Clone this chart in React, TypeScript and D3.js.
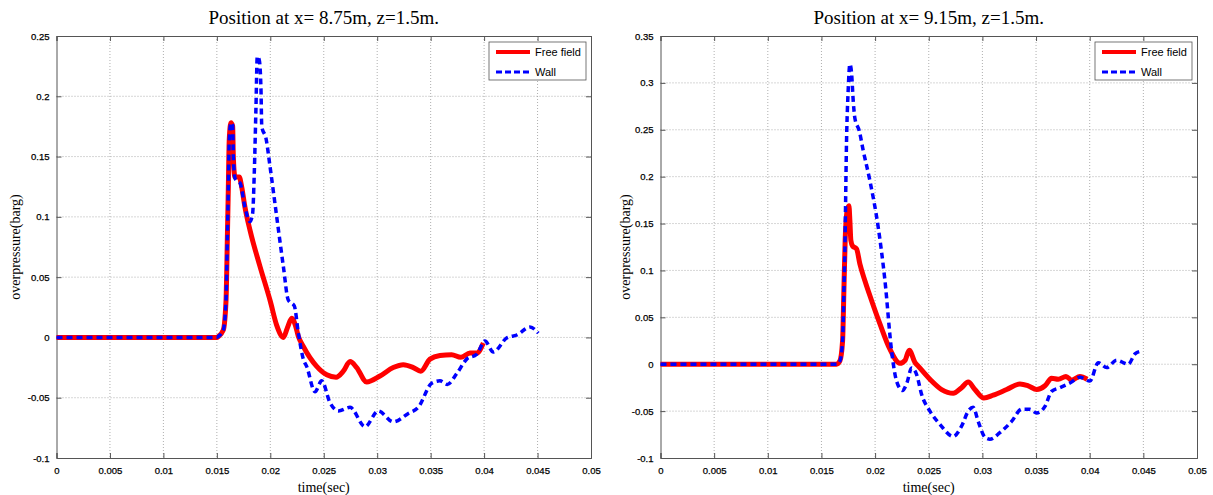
import React, { useEffect, useRef } from "react";
import * as d3 from "d3";

// left panel: x = 8.75 m
const leftFreeT = [0, 0.015, 0.01514, 0.0156, 0.01586, 0.01598, 0.01607, 0.01616, 0.01632, 0.01648, 0.01654, 0.0167, 0.0171, 0.01732, 0.01763, 0.0181, 0.019, 0.02, 0.0206, 0.02122, 0.0216, 0.022, 0.02235, 0.02262, 0.02309, 0.02434, 0.02528, 0.02615, 0.02683, 0.02746, 0.02808, 0.02902, 0.03026, 0.0315, 0.03244, 0.03338, 0.03407, 0.03494, 0.03587, 0.03697, 0.03781, 0.03868, 0.03931, 0.03993];
const leftFreeV = [0, 0, 0.0008, 0.006, 0.031, 0.081, 0.122, 0.164, 0.178, 0.175, 0.15, 0.133, 0.133, 0.125, 0.108, 0.089, 0.06, 0.03, 0.01, 0, 0.008, 0.016, 0.01, 0.001, -0.0075, -0.024, -0.031, -0.033, -0.028, -0.02, -0.025, -0.037, -0.032, -0.025, -0.0226, -0.025, -0.028, -0.018, -0.015, -0.0143, -0.0165, -0.013, -0.013, -0.0046];

const leftWallT = [0, 0.015, 0.01514, 0.0156, 0.01586, 0.01598, 0.01607, 0.01616, 0.01632, 0.01648, 0.01654, 0.0167, 0.01686, 0.01717, 0.01763, 0.0181, 0.01835, 0.0185, 0.01866, 0.01878, 0.01897, 0.01913, 0.0192, 0.0196, 0.01997, 0.0206, 0.02122, 0.02168, 0.02225, 0.02262, 0.02309, 0.0234, 0.02418, 0.02481, 0.02558, 0.02636, 0.02746, 0.02886, 0.0301, 0.0315, 0.03291, 0.03384, 0.0351, 0.03587, 0.03656, 0.03744, 0.03837, 0.03931, 0.04008, 0.04086, 0.04211, 0.04305, 0.04429, 0.04507];
const leftWallV = [0, 0, 0.0008, 0.006, 0.031, 0.081, 0.122, 0.164, 0.178, 0.176, 0.15, 0.132, 0.13, 0.128, 0.108, 0.096, 0.103, 0.136, 0.191, 0.233, 0.23, 0.205, 0.175, 0.165, 0.142, 0.1, 0.059, 0.031, 0.026, 0.004, -0.018, -0.024, -0.045, -0.036, -0.054, -0.061, -0.058, -0.074, -0.061, -0.07, -0.063, -0.058, -0.038, -0.036, -0.039, -0.03, -0.018, -0.014, -0.003, -0.012, -0.0005, 0.002, 0.0086, 0.0036];

// right panel: x = 9.15 m
const rightFreeT = [0, 0.01641, 0.01672, 0.01697, 0.01709, 0.01721, 0.0174, 0.01756, 0.01765, 0.01774, 0.0179, 0.01827, 0.01858, 0.01905, 0.01967, 0.02045, 0.02138, 0.02231, 0.02278, 0.02318, 0.02371, 0.02402, 0.02511, 0.0262, 0.02728, 0.02806, 0.02868, 0.0293, 0.03014, 0.03101, 0.03226, 0.0335, 0.03427, 0.03506, 0.03583, 0.03645, 0.03707, 0.03779, 0.03832, 0.03909, 0.03977];
const rightFreeV = [0, 0, 0.0035, 0.025, 0.078, 0.132, 0.164, 0.169, 0.153, 0.132, 0.126, 0.123, 0.107, 0.089, 0.068, 0.043, 0.016, 0.001, 0.004, 0.015, 0.002, -0.002, -0.016, -0.027, -0.031, -0.025, -0.019, -0.027, -0.036, -0.033, -0.027, -0.021, -0.023, -0.027, -0.023, -0.015, -0.016, -0.013, -0.017, -0.013, -0.016];

const rightWallT = [0, 0.01641, 0.01672, 0.01697, 0.01709, 0.01718, 0.01734, 0.01749, 0.01765, 0.01781, 0.01796, 0.01812, 0.01852, 0.01889, 0.01951, 0.02029, 0.02091, 0.02154, 0.022, 0.02256, 0.02299, 0.0234, 0.02387, 0.02433, 0.02511, 0.02604, 0.02728, 0.02806, 0.02868, 0.02914, 0.02961, 0.03024, 0.0307, 0.03163, 0.03272, 0.03366, 0.03443, 0.03506, 0.03583, 0.03645, 0.03723, 0.03816, 0.03909, 0.04002, 0.0408, 0.04158, 0.04251, 0.0436, 0.04422, 0.04484];
const rightWallV = [0, 0, 0.0035, 0.025, 0.078, 0.12, 0.239, 0.292, 0.32, 0.31, 0.281, 0.262, 0.249, 0.228, 0.196, 0.146, 0.09, 0.014, -0.018, -0.028, -0.019, -0.004, -0.011, -0.032, -0.05, -0.064, -0.077, -0.066, -0.05, -0.046, -0.061, -0.078, -0.08, -0.073, -0.061, -0.048, -0.048, -0.052, -0.045, -0.029, -0.025, -0.02, -0.014, -0.018, 0.0017, -0.0036, 0.0043, 0, 0.011, 0.014];

const xTicks = [0, 0.005, 0.01, 0.015, 0.02, 0.025, 0.03, 0.035, 0.04, 0.045, 0.05];
const leftYTicks = [-0.1, -0.05, 0, 0.05, 0.1, 0.15, 0.2, 0.25];
const rightYTicks = [-0.1, -0.05, 0, 0.05, 0.1, 0.15, 0.2, 0.25, 0.3, 0.35];
const seriesNames = ["Free field", "Wall"];

const panels = [
  { title: "Position at x= 8.75m, z=1.5m.", left: 56.5, right: 591, yMax: 0.25, yTicks: leftYTicks, free: [leftFreeT, leftFreeV], wall: [leftWallT, leftWallV], yLabelX: 15 },
  { title: "Position at x= 9.15m, z=1.5m.", left: 660.5, right: 1197, yMax: 0.35, yTicks: rightYTicks, free: [rightFreeT, rightFreeV], wall: [rightWallT, rightWallV], yLabelX: 625 },
];

export default function App() {
  const svgRef = useRef(null);

  useEffect(() => {
    const svg = d3.select(svgRef.current);
    svg.selectAll("*").remove();
    const top = 36;
    const bottom = 458;
    const fmt = (d) => (d === 0 ? "0" : String(+d.toFixed(3)));

    panels.forEach((p) => {
      const x = d3.scaleLinear().domain([0, 0.05]).range([p.left, p.right]);
      const y = d3.scaleLinear().domain([-0.1, p.yMax]).range([bottom, top]);
      const g = svg.append("g");

      // grid
      g.append("g")
        .selectAll("line")
        .data(xTicks.slice(1, -1))
        .join("line")
        .attr("x1", (d) => x(d))
        .attr("x2", (d) => x(d))
        .attr("y1", top)
        .attr("y2", bottom)
        .attr("stroke", "#9a9a9a")
        .attr("stroke-width", 0.8)
        .attr("stroke-dasharray", "1,2");
      g.append("g")
        .selectAll("line")
        .data(p.yTicks.slice(1, -1))
        .join("line")
        .attr("x1", p.left)
        .attr("x2", p.right)
        .attr("y1", (d) => y(d))
        .attr("y2", (d) => y(d))
        .attr("stroke", "#9a9a9a")
        .attr("stroke-width", 0.8)
        .attr("stroke-dasharray", "1,2");

      // axes, ticks inside on all four sides
      const tick = 5;
      const axB = g.append("g").attr("transform", `translate(0,${bottom})`)
        .call(d3.axisBottom(x).tickValues(xTicks).tickSize(-tick).tickPadding(9).tickFormat(fmt));
      const axT = g.append("g").attr("transform", `translate(0,${top})`)
        .call(d3.axisTop(x).tickValues(xTicks).tickSize(-tick).tickFormat(() => ""));
      const axL = g.append("g").attr("transform", `translate(${p.left},0)`)
        .call(d3.axisLeft(y).tickValues(p.yTicks).tickSize(-tick).tickPadding(7).tickFormat(fmt));
      const axR = g.append("g").attr("transform", `translate(${p.right},0)`)
        .call(d3.axisRight(y).tickValues(p.yTicks).tickSize(-tick).tickFormat(() => ""));
      [axB, axT, axL, axR].forEach((a) => {
        a.select(".domain").attr("stroke", "#555").attr("stroke-width", 1);
        a.selectAll(".tick line").attr("stroke", "#555");
        a.selectAll("text")
          .attr("fill", "#000")
          .attr("stroke", "#000")
          .attr("stroke-width", 0.25)
          .style("font-family", "Liberation Sans, Arial, sans-serif")
          .style("font-size", "9.5px");
      });

      const line = d3.line()
        .x((d) => x(d[0]))
        .y((d) => y(d[1]))
        .curve(d3.curveMonotoneX);
      const freePts = p.free[0].map((t, i) => [t, p.free[1][i]]);
      const wallPts = p.wall[0].map((t, i) => [t, p.wall[1][i]]);

      g.append("path")
        .attr("d", line(freePts))
        .attr("fill", "none")
        .attr("stroke", "#ff0000")
        .attr("stroke-width", 5)
        .attr("stroke-linejoin", "round");
      g.append("path")
        .attr("d", line(wallPts))
        .attr("fill", "none")
        .attr("stroke", "#0000ff")
        .attr("stroke-width", 3.5)
        .attr("stroke-dasharray", "6,4");

      // legend
      const lx = p.right - 102;
      const lg = g.append("g").attr("transform", `translate(${lx},42)`);
      lg.append("rect")
        .attr("width", 97)
        .attr("height", 38)
        .attr("fill", "#fff")
        .attr("stroke", "#555")
        .attr("stroke-width", 0.8);
      seriesNames.forEach((name, i) => {
        const yy = 10 + i * 20;
        lg.append("line")
          .attr("x1", 7)
          .attr("x2", 41)
          .attr("y1", yy)
          .attr("y2", yy)
          .attr("stroke", i === 0 ? "#ff0000" : "#0000ff")
          .attr("stroke-width", i === 0 ? 4 : 3)
          .attr("stroke-dasharray", i === 0 ? null : "6,3");
        lg.append("text")
          .attr("x", 46)
          .attr("y", yy + 4)
          .style("font-family", "Liberation Sans, Arial, sans-serif")
          .style("font-size", "11px")
          .text(name);
      });

      // title and labels
      g.append("text")
        .attr("x", (p.left + p.right) / 2)
        .attr("y", 24)
        .attr("text-anchor", "middle")
        .style("font-family", "Liberation Serif, Times New Roman, serif")
        .style("font-size", "19px")
        .text(p.title);
      g.append("text")
        .attr("x", (p.left + p.right) / 2)
        .attr("y", 492)
        .attr("text-anchor", "middle")
        .style("font-family", "Liberation Serif, Times New Roman, serif")
        .style("font-size", "14px")
        .text("time(sec)");
      g.append("text")
        .attr("transform", `translate(${p.yLabelX},${(top + bottom) / 2}) rotate(-90)`)
        .attr("text-anchor", "middle")
        .attr("dy", "0.35em")
        .style("font-family", "Liberation Serif, Times New Roman, serif")
        .style("font-size", "14px")
        .text("overpressure(barg)");
    });
  }, []);

  return (
    <div style={{ position: "absolute", left: 0, top: 0 }}>
      <svg ref={svgRef} width={1213} height={495} style={{ display: "block", background: "#fff" }}></svg>
    </div>
  );
}
